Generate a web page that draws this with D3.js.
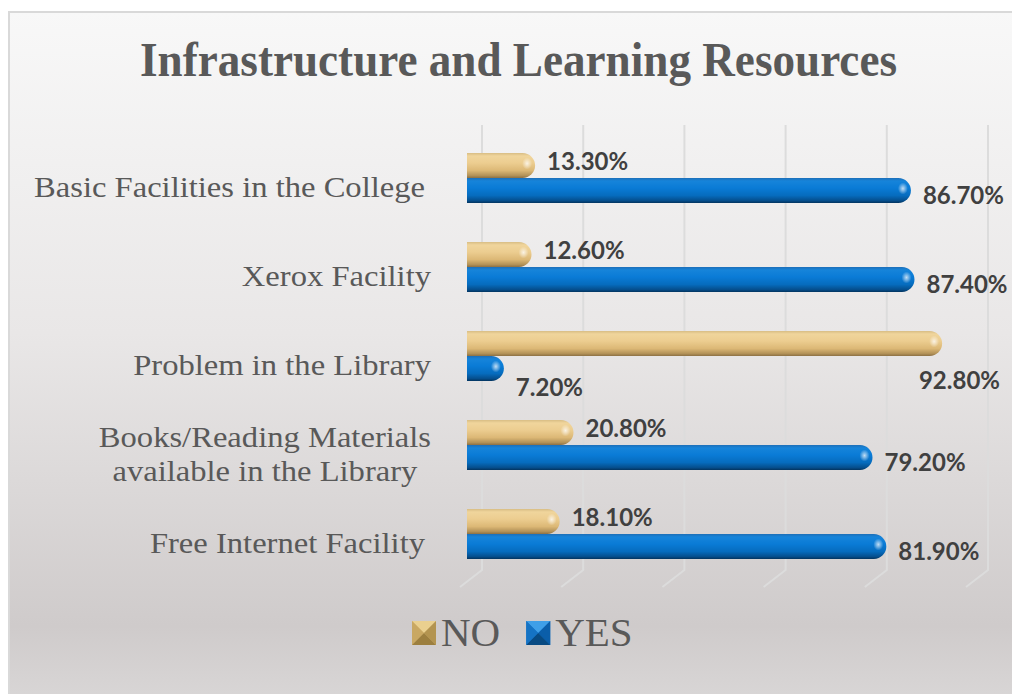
<!DOCTYPE html>
<html><head><meta charset="utf-8">
<script src="https://cdn.jsdelivr.net/npm/d3@7"></script>
<style>html,body{margin:0;padding:0;background:#fff;}svg{display:block;}</style>
</head><body>
<svg id="chart" width="1012" height="694"></svg>
<script>
const title = "Infrastructure and Learning Resources";
const categories = [
  ["Basic Facilities in the College"],
  ["Xerox Facility"],
  ["Problem in the Library"],
  ["Books/Reading Materials", "available in the Library"],
  ["Free Internet Facility"]
];
const seriesNames = ["NO", "YES"];
const noValues  = [13.3, 12.6, 92.8, 20.8, 18.1];
const yesValues = [86.7, 87.4, 7.2, 79.2, 81.9];
const gridTicks = [0, 20, 40, 60, 80, 100];

const svg = d3.select("#chart");
const W = 1012, H = 694;
const defs = svg.append("defs");

const bg = defs.append("linearGradient").attr("id","bg").attr("x1",0).attr("y1",0).attr("x2",0).attr("y2",1);
[[0,"#f8f8f8"],[0.45,"#e9e7e7"],[0.86,"#cfcbcb"],[1,"#dcdada"]].forEach(s=>bg.append("stop").attr("offset",s[0]).attr("stop-color",s[1]));

function barGrad(id, stops){
  const g = defs.append("linearGradient").attr("id",id).attr("x1",0).attr("y1",0).attr("x2",0).attr("y2",1);
  stops.forEach(s=>g.append("stop").attr("offset",s[0]).attr("stop-color",s[1]));
}
barGrad("gNO", [[0,"#d8bd84"],[0.12,"#f0d59c"],[0.4,"#eccd90"],[0.7,"#dcb876"],[0.9,"#b39258"],[1,"#8c7044"]]);
barGrad("gYES",[[0,"#1d6fb8"],[0.12,"#1684da"],[0.4,"#0a7bd6"],[0.7,"#066cbe"],[0.9,"#054f8e"],[1,"#03345f"]]);
const hl = defs.append("radialGradient").attr("id","hl");
hl.append("stop").attr("offset",0).attr("stop-color","#fff").attr("stop-opacity",0.75);
hl.append("stop").attr("offset",1).attr("stop-color","#fff").attr("stop-opacity",0);

svg.append("rect").attr("x",9).attr("y",12).attr("width",W+20).attr("height",H+20)
  .attr("fill","url(#bg)").attr("stroke","#d9d9d9").attr("stroke-width",2);

const x = d3.scaleLinear().domain([0,100]).range([467,979]);
const xBack = d3.scaleLinear().domain([0,100]).range([482,988]);
const y = d3.scaleBand().domain(d3.range(categories.length)).range([133.5,578.5]).paddingInner(0).paddingOuter(0);
const barH = 25;

const grid = svg.append("g");
gridTicks.forEach(t=>{
  const gx = xBack(t);
  grid.append("path")
    .attr("d", `M${gx},125 V570 L${gx-22},587`)
    .attr("fill","none").attr("stroke","#dcdcdc").attr("stroke-width",2);
});

const tt = svg.append("text").attr("x",518.5).attr("y",76).attr("text-anchor","middle")
  .attr("font-family","Liberation Serif, serif").attr("font-weight","bold").attr("font-size",49)
  .attr("fill","#595959").text(title);
tt.attr("textLength",757).attr("lengthAdjust","spacingAndGlyphs");

const labG = svg.append("g").attr("font-family","Liberation Serif, serif").attr("font-size",30).attr("fill","#595959");
const firstW = (()=>{const t=labG.append("text").text(categories[0][0]);const w=t.node().getComputedTextLength();t.remove();return w;})();
const k = 391/firstW;
categories.forEach((lines,i)=>{
  const c = y(i)+y.bandwidth()/2;
  const lh = 34;
  const ws = lines.map(l=>{const t=labG.append("text").text(l);const w=t.node().getComputedTextLength()*k;t.remove();return w;});
  const blockW = d3.max(ws);
  const right = (i===0||i===4) ? 425 : 431;
  lines.forEach((l,j)=>{
    const base = c + 19 + (j-(lines.length-1)/2)*lh;
    const cx = right - blockW/2;
    labG.append("text").attr("x",cx).attr("y",base).attr("text-anchor","middle")
      .attr("textLength",ws[j]).attr("lengthAdjust","spacingAndGlyphs").text(l);
  });
});

function pill(x0,x1,y0,h){
  const r = Math.min(h/2,(x1-x0)/2);
  return `M${x0},${y0} H${x1-r} A${r},${r} 0 0 1 ${x1-r},${y0+h} H${x0} Z`;
}
const bars = svg.append("g");
const series = [{name:"NO",vals:noValues,grad:"gNO",off:-barH},{name:"YES",vals:yesValues,grad:"gYES",off:0}];
series.forEach(s=>{
  s.vals.forEach((v,i)=>{
    const c = y(i)+y.bandwidth()/2;
    const y0 = c + s.off;
    const x1 = x(v);
    bars.append("path").attr("d",pill(x(0),x1,y0,barH)).attr("fill",`url(#${s.grad})`);
    bars.append("ellipse").attr("cx",x1-8).attr("cy",y0+barH*0.42).attr("rx",5).attr("ry",6).attr("fill","url(#hl)");
  });
});

const dl = svg.append("g").attr("font-family","Lato, 'Open Sans', sans-serif").attr("font-weight","bold")
  .attr("font-size",24).attr("fill","#404040");
const fmt = v=>v.toFixed(2)+"%";
const rightLimit = 1000;
noValues.forEach((v,i)=>{
  const c = y(i)+y.bandwidth()/2;
  const noC = c - barH/2, yesC = c + barH/2;
  const t = dl.append("text").text(fmt(v));
  const w = t.node().getComputedTextLength();
  let lx = x(v)+12, ly = noC+4, displaced=false;
  if (lx + w > rightLimit){ lx = rightLimit - w; ly = yesC + 20; displaced=true; }
  t.attr("x",lx).attr("y",ly);
  const yv = yesValues[i];
  dl.append("text").text(fmt(yv)).attr("x",x(yv)+12).attr("y", yesC + (displaced?27:13));
});

const lg = svg.append("g");
const mk = {NO:["#ead08f","#c9a862","#b39450","#9c7f3f","#d9bd7a"], YES:["#3f9fe8","#1573c4","#0b5ea9","#084a82","#1a7ad0"]};
let lx = 412;
seriesNames.forEach(n=>{
  const s=24, yy=621, cx=lx+s/2, cy=yy+s/2, c=mk[n];
  lg.append("rect").attr("x",lx).attr("y",yy).attr("width",s).attr("height",s).attr("fill",c[4]);
  lg.append("path").attr("d",`M${lx},${yy} L${lx+s},${yy} L${cx},${cy} Z`).attr("fill",c[0]);
  lg.append("path").attr("d",`M${lx},${yy} L${cx},${cy} L${lx},${yy+s} Z`).attr("fill",c[1]);
  lg.append("path").attr("d",`M${lx+s},${yy} L${lx+s},${yy+s} L${cx},${cy} Z`).attr("fill",c[2]);
  lg.append("path").attr("d",`M${lx},${yy+s} L${cx},${cy} L${lx+s},${yy+s} Z`).attr("fill",c[3]);
  const t = lg.append("text").attr("x",lx+s+5).attr("y",646)
    .attr("font-family","Liberation Serif, serif").attr("font-size",41).attr("fill","#595959").text(n);
  lx = lx + s + 5 + t.node().getComputedTextLength() + 26;
});
</script>
</body></html>
